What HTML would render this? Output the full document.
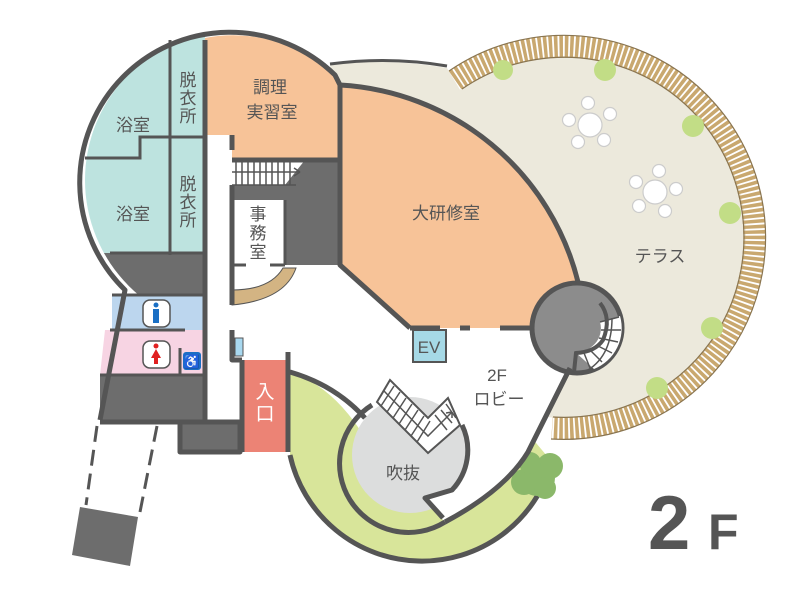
<!DOCTYPE html><html><head><meta charset="utf-8"><style>html,body{margin:0;padding:0;background:#fff}svg{display:block}text{font-family:"Liberation Sans","Noto Sans CJK JP",sans-serif;fill:#555}</style></head><body>
<svg width="800" height="600" viewBox="0 0 800 600" xmlns="http://www.w3.org/2000/svg">
<defs><clipPath id="lc"><circle cx="235" cy="180" r="150"/></clipPath></defs>
<!-- terrace -->
<path d="M 330 64 Q 390 58 447 68 L 490 140 L 340 130 Z" fill="#ece9dc"/>
<path d="M 330 64 Q 390 56 447 66" fill="none" stroke="#555" stroke-width="3"/>
<circle cx="565" cy="237" r="181" fill="#ece9dc"/>
<path d="M 455 80 A 191 191 0 1 1 552 428" fill="none" stroke="#c9a86f" stroke-width="22" stroke-dasharray="3.5 1.8"/>
<path d="M 449 71 A 202 202 0 1 1 551 439" fill="none" stroke="#8a7550" stroke-width="1.2"/>
<path d="M 462 89 A 180 180 0 1 1 553 417" fill="none" stroke="#8a7550" stroke-width="1.2"/>
<!-- trees -->
<g fill="#c2dd86"><circle cx="503" cy="70" r="10"/><circle cx="605" cy="70" r="11"/><circle cx="693" cy="126" r="11"/><circle cx="730" cy="213" r="11"/><circle cx="712" cy="328" r="11"/><circle cx="657" cy="388" r="11"/></g>
<!-- tables -->
<g fill="#fff" stroke="#ccc" stroke-width="1.2"><circle cx="590" cy="125" r="12"/><circle cx="588" cy="103" r="6.5"/><circle cx="610" cy="114" r="6.5"/><circle cx="604" cy="140" r="6.5"/><circle cx="578" cy="142" r="6.5"/><circle cx="569" cy="120" r="6.5"/>
<circle cx="655" cy="192" r="12"/><circle cx="659" cy="171" r="6.5"/><circle cx="676" cy="189" r="6.5"/><circle cx="665" cy="211" r="6.5"/><circle cx="639" cy="206" r="6.5"/><circle cx="636" cy="182" r="6.5"/></g>
<!-- green garden -->
<path d="M 290 372 L 290 455 A 135 135 0 0 0 552 462 L 500 400 L 350 400 Z" fill="#d8e59a"/>
<path d="M 290 455 A 135 135 0 0 0 552 462" fill="none" stroke="#555" stroke-width="5"/>
<circle cx="537" cy="478" r="18" fill="#8bb86a"/><circle cx="524" cy="482" r="13" fill="#8bb86a"/><circle cx="550" cy="466" r="13" fill="#8bb86a"/><circle cx="530" cy="463" r="11" fill="#8bb86a"/><circle cx="545" cy="488" r="11" fill="#8bb86a"/>
<!-- building white base -->
<path d="M 100 420 L 125 290 A 150 150 0 0 1 335 75 L 340 85 A 260 260 0 0 1 578 282 L 568 368 L 528 452 Q 505 490 445 522 L 360 430 Q 330 385 290 372 L 290 452 L 180 452 L 180 422 Z" fill="#fff"/>
<path d="M 290 372 Q 335 385 365 418" fill="none" stroke="#555" stroke-width="5"/>
<!-- teal -->
<g clip-path="url(#lc)"><rect x="80" y="20" width="125" height="233" fill="#bde3df"/><rect x="80" y="253" width="125" height="45" fill="#6d6d6d"/></g>
<!-- orange cooking -->
<path d="M 205 38 A 150 150 0 0 1 335 75 L 340 85 L 340 158 L 232 158 L 232 135 L 205 135 Z" fill="#f7c398"/>
<!-- big room -->
<path d="M 340 85 A 260 260 0 0 1 578 282 L 578 328 L 410 328 L 340 265 Z" fill="#f7c398"/>
<!-- dark blocks -->
<path d="M 305 160 L 340 160 L 340 265 L 232 265 L 232 185 L 285 185 Z" fill="#6d6d6d"/>
<rect x="232" y="200" width="53" height="65" fill="#fff"/>
<!-- stairs top -->
<g stroke="#555" stroke-width="1.5"><path d="M232 160 H318 M232 185 H296"/><path d="M236 160V185M242 160V185M248 160V185M254 160V185M260 160V185M266 160V185M272 160V185M278 160V185M284 160V185M290 160V185"/><path d="M232 172 H300" /></g>
<path d="M300 172 l-6 -4 M300 172 l-6 4" stroke="#555" stroke-width="1.5"/>
<!-- curved bench -->
<path d="M 232 290 Q 270 290 283 268 L 296 268 Q 285 300 232 305 Z" fill="#d3b483" stroke="#555" stroke-width="1"/>
<!-- toilets -->
<rect x="112" y="295" width="93" height="35" fill="#bcd6ee"/><path d="M105 330 H205 V375 H100 Z" fill="#f7d4e3"/>
<path d="M100 375 H205 V422 H100 Z" fill="#6d6d6d"/>
<rect x="180" y="422" width="60" height="30" fill="#6d6d6d"/>
<rect x="143" y="300" width="27" height="27" rx="7" fill="#fff" stroke="#555" stroke-width="1.5"/>
<rect x="143" y="341" width="27" height="27" rx="7" fill="#fff" stroke="#555" stroke-width="1.5"/>
<circle cx="156" cy="305" r="2.5" fill="#1a6fc4"/><rect x="153" y="309" width="6" height="14" fill="#1a6fc4"/>
<circle cx="156" cy="346" r="2.5" fill="#e02020"/><path d="M156 349 L161 358 L151 358 Z M154 358 h4 v6 h-4z" fill="#e02020"/>
<rect x="183" y="352" width="18" height="18" rx="3" fill="#1a6fc4"/><text x="192" y="366" font-size="13" text-anchor="middle" style="fill:#fff">♿</text>
<!-- entrance -->
<rect x="242" y="360" width="46" height="92" fill="#ec8375"/>
<rect x="235" y="338" width="8" height="18" fill="#a8d8ef" stroke="#555" stroke-width="1"/>
<!-- EV -->
<rect x="413" y="330" width="33" height="32" fill="#a6d9e6" stroke="#555" stroke-width="2"/>
<!-- void -->
<circle cx="410" cy="455" r="58" fill="#dcdddd"/>
<path d="M 445 522 L 425 498 L 455 488 L 475 500 Z" fill="#fff"/>
<path d="M 372 405 A 58 58 0 1 0 445 522 M 462 425 A 58 58 0 0 1 452 490 L 425 498 L 443 518" fill="none" stroke="#555" stroke-width="5" stroke-linejoin="round"/>
<path d="M390 380 L377 402 L428 453 L460 425 L448 398 L428 418 Z" fill="#fff" stroke="#555" stroke-width="2"/>
<g stroke="#555" stroke-width="1.5" fill="none"><path d="M384 391 L428 436 L452 412"/><path d="M394 386 L381 406 M400 392 L387 412 M406 398 L393 418 M412 404 L399 424 M418 410 L405 430 M424 416 L411 436 M430 421 L417 442 M435 415 L447 430 M441 410 L452 423 M446 404 L456 418"/><path d="M452 412 l-6 1 M452 412 l0 6"/></g>
<!-- spiral stair -->
<circle cx="577" cy="328" r="45" fill="#8c8c8c" stroke="#555" stroke-width="5"/>
<path d="M 574 351 A 23 23 0 0 0 600 322 L 620 316 A 44 44 0 0 1 594 369 Z" fill="#fff"/>
<g stroke="#555" stroke-width="1.5"><path d="M600 322 l19 -5 M601 330 l20 0 M599 338 l19 4 M596 345 l16 8 M590 350 l12 12 M584 353 l6 15"/></g>
<path d="M 588 370 Q 612 355 612 318" fill="none" stroke="#555" stroke-width="1.5"/>
<path d="M 600 303 Q 612 318 603 340 Q 595 352 576 353 L 574 372" fill="none" stroke="#555" stroke-width="4"/>
<!-- walls -->
<g fill="none" stroke="#555" stroke-width="5" stroke-linejoin="round">
<path d="M 100 420 L 125 290 A 150 150 0 0 1 335 75 L 340 85 A 260 260 0 0 1 578 282"/>
<path d="M 570 368 L 528 452 Q 505 490 445 522"/>
<path d="M340 85 V265 L410 328 M340 160 H232 M205 40 V135 M232 135 V150 M232 185 V305 M232 330 V360 H242 M288 352 V452 M242 360 V452 M180 422 H240 V452 H180 Z M205 135 V422 M100 422 H205"/>
<path d="M 410 328 H 440 M 460 328 H 470 M 500 328 H 532"/>
</g>
<g fill="none" stroke="#555" stroke-width="3">
<path d="M85 158 H140 V137 H205 M170 40 V255 M110 253 H205 M112 295 H205 M110 330 H185 M100 375 H205 M285 200 V265 M232 265 H246 M270 265 H285 M180 348 V375 H205"/>
</g>
<!-- outside path -->
<path d="M 97 426 L 86 505 M 157 426 L 140 512" stroke="#555" stroke-width="3" stroke-dasharray="16 8"/>
<path d="M 80 507 L 138 517 L 130 566 L 72 555 Z" fill="#6d6d6d"/>
<!-- text -->
<g font-size="17" text-anchor="middle">
<text x="133" y="131">浴室</text><text x="133" y="220">浴室</text>
<text x="188" y="86">脱</text><text x="188" y="104">衣</text><text x="188" y="122">所</text>
<text x="188" y="190">脱</text><text x="188" y="208">衣</text><text x="188" y="226">所</text>
<text x="270" y="93">調理</text><text x="272" y="118">実習室</text>
<text x="258" y="220">事</text><text x="258" y="239">務</text><text x="258" y="258">室</text>
<text x="446" y="219">大研修室</text>
<text x="660" y="262">テラス</text>
<text x="429" y="353">EV</text>
<text x="497" y="381">2F</text><text x="499" y="405">ロビー</text>
<text x="403" y="479">吹抜</text>
<text x="265" y="398" font-size="19" style="fill:#fff">入</text><text x="265" y="420" font-size="19" style="fill:#fff">口</text>
</g>
<text x="648" y="549" font-size="76" font-weight="bold" style="fill:#555">2</text>
<text x="708" y="549" font-size="50" font-weight="bold" style="fill:#555">F</text>
</svg>
</body></html>
